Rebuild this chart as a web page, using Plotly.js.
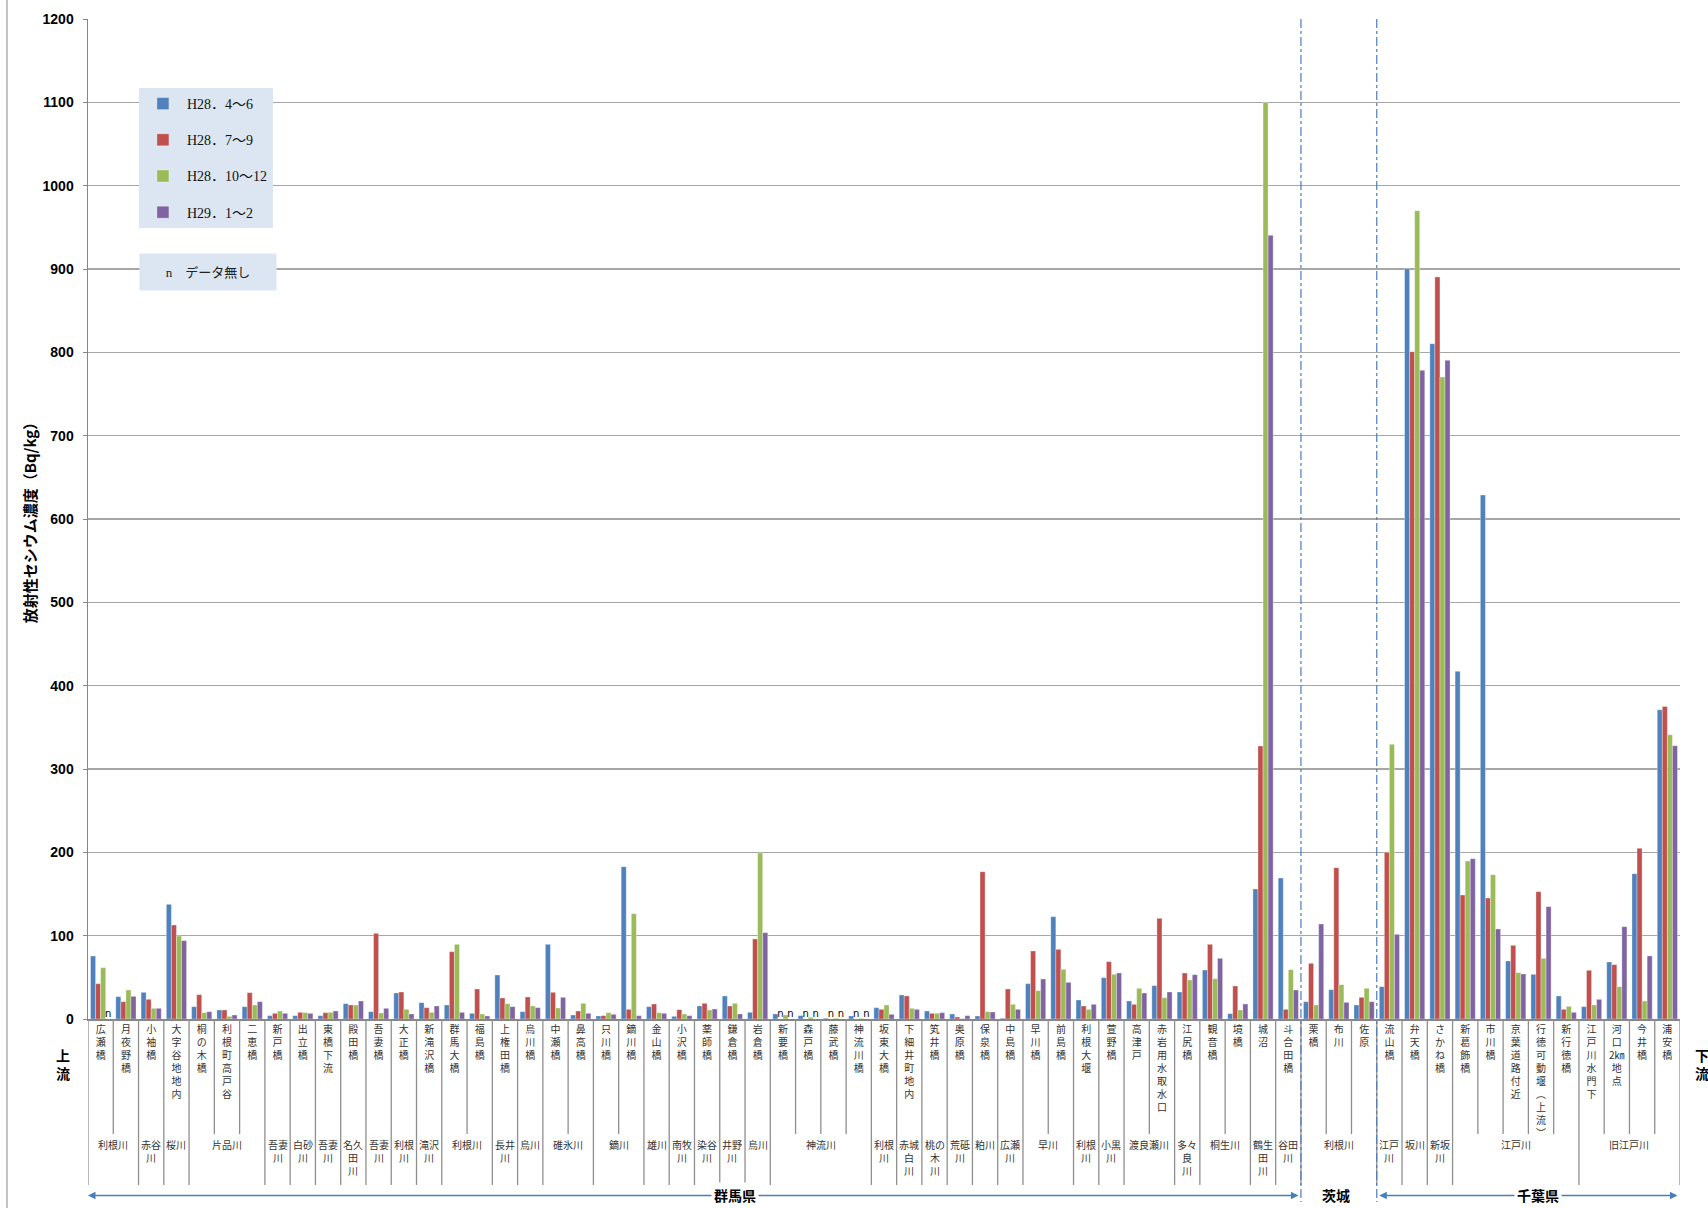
<!DOCTYPE html>
<html><head><meta charset="utf-8">
<script src="https://cdn.plot.ly/plotly-3.0.1.min.js"></script>
<style>body{margin:0;background:#fff}</style>
</head><body>
<div id="chart" style="width:1708px;height:1208px"></div>
<script>
const stations = ['広瀬橋','月夜野橋','小袖橋','大字谷地地内','桐の木橋','利根町高戸谷','二恵橋','新戸橋','出立橋','東橋下流',
 '殿田橋','吾妻橋','大正橋','新滝沢橋','群馬大橋','福島橋','上権田橋','烏川橋','中瀬橋','鼻高橋',
 '只川橋','鏑川橋','金山橋','小沢橋','薬師橋','鎌倉橋','岩倉橋','新要橋','森戸橋','藤武橋',
 '神流川橋','坂東大橋','下細井町地内','笂井橋','奥原橋','保泉橋','中島橋','早川橋','前島橋','利根大堰',
 '萱野橋','高津戸','赤岩用水取水口','江尻橋','観音橋','境橋','城沼','斗合田橋','栗橋','布川',
 '佐原','流山橋','弁天橋','さかね橋','新葛飾橋','市川橋','京葉道路付近','行徳可動堰（上流）','新行徳橋','江戸川水門下',
 '河口2㎞地点','今井橋','浦安橋'];
const riverLabels = ['利根川','赤谷川','桜川','片品川','吾妻川','白砂川','吾妻川','名久田川','吾妻川','利根川',
 '滝沢川','利根川','長井川','烏川','碓氷川','鏑川','雄川','南牧川','染谷川','井野川',
 '烏川','神流川','利根川','赤城白川','桃の木川','荒砥川','粕川','広瀬川','早川','利根川',
 '小黒川','渡良瀬川','多々良川','桐生川','鶴生田川','谷田川','利根川','江戸川','坂川','新坂川',
 '江戸川','旧江戸川'];
const riverCounts = [2,1,1,3,1,1,1,1,1,1, 1,2,1,1,2,2,1,1,1,1, 1,4,1,1,1,1,1,1,2,1, 1,2,1,2,1,1,3,1,1,1, 5,4];
const prefLabels = ['群馬県','茨城','千葉県'];
const prefCounts = [48,3,12];
const seriesNames = ['H28．4～6','H28．7～9','H28．10～12','H29．1～2'];
const seriesColors = ['#4F81BD','#C0504D','#9BBB59','#8064A2'];
const s1 = [75.6,26.8,32,137.6,14.8,10.8,14.8,4,4,4, 18.4,8.8,31.2,19.6,16.8,6.8,52.8,8.8,89.6,4.8,
 3.6,182.8,14.8,3.2,15.6,27.6,8,6,4,1, 3.6,13.6,28.8,9.6,6,3.6,1,42.4,122.8,22.8,
 49.6,21.6,40,32.4,58.8,6.4,156,169.2,20.8,35.2, 16.8,38.8,900.4,810.4,417.2,628.8,69.6,53.6,27.6,14.8,
 68.4,174.4,371];
const s2 = [42.4,20.8,23.6,112.8,29.2,10.8,31.6,6.8,8,7.6, 16.8,102.8,32.4,13.6,80.8,36,25.2,26.4,32,9.6,
 4,11.6,18,11.2,18.8,15.6,96,null,null,null, null,11.6,27.6,6.8,2.4,176.8,36,81.6,83.6,15.6,
 68.8,17.6,120.8,55.2,89.6,39.6,327.6,11.6,66.8,181.6, 26,200,800.8,890.4,148.8,145.2,88.4,152.8,11.6,58.4,
 65.2,204.8,375];
const s3 = [61.6,34.8,12.8,99.6,7.6,3.2,16.8,9.6,7.6,8, 16.8,7.2,11.6,8,89.6,6,18.4,15.6,13.2,18.8,
 7.6,126.4,7.6,6,10.8,18.8,199.2,4.8,2,1, 0.8,16.8,12.8,6.8,0.5,8.8,17.6,34,59.6,11.6,
 53.6,36.8,25.6,46.8,48.4,10.8,1100,59.2,16.8,41.2, 36.8,329.6,970,770.4,189.6,173.2,55.6,72.8,15.2,16.8,
 38.8,21.6,341];
const s4 = [null,27.2,12.8,94,8.8,4.8,20.8,6.8,6.8,9.6, 21.6,12.8,6,15.6,8,3.6,14.8,13.6,26,6.8,
 5.6,4,6.8,4,12,6,103.6,null,null,null, null,5.6,11.6,7.6,4,8.4,11.6,48,44,17.6,
 55.2,31.2,32.4,53.2,72.8,18,940.4,34.8,114,20, 20.8,101.6,778.4,790.4,192.4,108,54,134.8,8,23.6,
 110.8,75.6,328];
const allSeries = [s1,s2,s3,s4];

function vertical(s){
  const toks = s.replace(/（/g,'︵').replace(/）/g,'︶').match(/\d+㎞|./gu);
  return toks.join('<br>');
}
function wrapRiver(name,count){
  const ch = Array.from(name);
  if(count>1 || ch.length<=2) return name;
  return [ch.slice(0,2).join('')].concat(ch.slice(2)).join('<br>');
}

const traces = allSeries.map((arr,k)=>({
  type:'bar', x:stations, y:arr.map(v=>v===null?0:v), name:seriesNames[k],
  legendgroup:'g'+k,
  marker:{color:seriesColors[k], line:{color:'rgba(255,255,255,0.55)', width:0.6}},
  text:arr.map(v=>v===null?'n':''), textposition:'outside', constraintext:'none', textangle:0,
  textfont:{family:'DejaVu Sans', size:10, color:'#000'}, cliponaxis:false, hoverinfo:'skip'
}));

const N = stations.length;
const shapes = [];
const annotations = [];
const gridCol = '#8f8f8f';
const groupBounds = new Set([0]);
let c = 0;
riverCounts.forEach(n=>{c+=n; groupBounds.add(c);});
for(let i=0;i<=N;i++){
  shapes.push({type:'line', xref:'x', yref:'paper', x0:i-0.5, x1:i-0.5, y0:0,
    y1: groupBounds.has(i) ? -0.166 : -0.115, line:{color:gridCol, width:1.3}});
}
c = 0;
riverLabels.forEach((r,j)=>{
  const n = riverCounts[j];
  annotations.push({xref:'x', yref:'paper', x:c+n/2-0.5, y:-0.116, yanchor:'top', xanchor:'center',
    text:wrapRiver(r,n), showarrow:false, font:{family:'Noto Sans CJK JP', size:10, color:'#333'}});
  c += n;
});
let pb = 0;
prefCounts.slice(0,-1).forEach(n=>{
  pb += n;
  shapes.push({type:'line', xref:'x', yref:'paper', x0:pb-0.5, x1:pb-0.5, y0:1, y1:-0.183,
    line:{color:'#4A7EBB', width:1.2, dash:'dashdot'}});
});
shapes.push({type:'line', xref:'paper', yref:'paper', x0:-0.0509, x1:-0.0509, y0:1.02, y1:-0.19,
  line:{color:'#9a9a9a', width:1.2}});

const arrowY = -0.1765;
const arrowCol = '#4A7EBB';
function arrow(head, tail){
  annotations.push({xref:'x', yref:'paper', x:head, y:arrowY, axref:'x', ayref:'pixel', ax:tail, ay:0,
    text:'', showarrow:true, arrowhead:2, arrowsize:1, arrowwidth:1.5, arrowcolor:arrowCol, standoff:0, startstandoff:0});
}
const gunmaEnd = prefCounts[0]-0.5;
const chibaStart = prefCounts[0]+prefCounts[1]-0.5;
const gunmaTextX = 25.1, ibarakiTextX = 48.9, chibaTextX = 56.9;
arrow(-0.5, gunmaTextX); arrow(gunmaEnd-0.1, gunmaTextX);
arrow(chibaStart+0.1, chibaTextX); arrow(N-0.5-0.1, chibaTextX);
[[prefLabels[0],gunmaTextX],[prefLabels[1],ibarakiTextX],[prefLabels[2],chibaTextX]].forEach(([t,x])=>{
  annotations.push({xref:'x', yref:'paper', x:x, y:arrowY, yanchor:'middle', xanchor:'center', text:t,
    showarrow:false, bgcolor:'#ffffff', borderpad:2,
    font:{family:'Noto Sans CJK JP', size:14, color:'#000', weight:'bold'}});
});
annotations.push({xref:'paper', yref:'paper', x:-0.0157, y:-0.045, text:'上<br>流', showarrow:false,
  xanchor:'center', yanchor:'middle', font:{family:'Noto Sans CJK JP', size:14, color:'#000', weight:'bold'}});
annotations.push({xref:'paper', yref:'paper', x:1.0138, y:-0.045, text:'下<br>流', showarrow:false,
  xanchor:'center', yanchor:'middle', font:{family:'Noto Sans CJK JP', size:14, color:'#000', weight:'bold'}});
annotations.push({xref:'paper', yref:'paper', x:0.0754, y:0.747, xanchor:'center', yanchor:'middle',
  text:'n　データ無し', showarrow:false, bgcolor:'#dce6f2', width:134, height:34,
  font:{family:'Liberation Serif, Noto Sans CJK JP', size:13, color:'#222'}});

const layout = {
  width:1708, height:1208,
  margin:{l:88, r:28, t:19, b:189},
  paper_bgcolor:'#fff', plot_bgcolor:'#fff',
  barmode:'group', bargap:0.2, bargroupgap:0,
  hovermode:false,
  showlegend:true,
  legend:{x:0.032, y:0.931, xanchor:'left', yanchor:'top', bgcolor:'#dce6f2', borderwidth:0,
    font:{family:'Liberation Serif, Noto Sans CJK JP', size:14, color:'#111'},
    traceorder:'grouped', tracegroupgap:15, itemwidth:38},
  xaxis:{type:'category', tickmode:'array', tickvals:stations, ticktext:stations.map(vertical),
    tickangle:0, ticks:'', showgrid:false, showline:true, linecolor:'#868686', linewidth:1.5,
    tickfont:{family:'Noto Sans CJK JP', size:10, color:'#333'}, range:[-0.5, N-0.5], fixedrange:true},
  yaxis:{range:[0,1200], dtick:100, showgrid:true, gridcolor:'#a6a6a6', gridwidth:1.2, zeroline:false,
    showline:true, linecolor:'#868686', linewidth:1.5, ticks:'outside', ticklen:4, tickcolor:'#868686',
    ticklabelstandoff:6,
    tickfont:{family:'Liberation Sans', size:14, color:'#000', weight:'bold'},
    title:{text:'放射性セシウム濃度（Bq/kg）', standoff:2,
      font:{family:'Noto Sans CJK JP', size:15, color:'#000', weight:'bold'}}},
  shapes:shapes, annotations:annotations
};
Plotly.newPlot('chart', traces, layout, {displayModeBar:false, staticPlot:true});
</script>
</body></html>
